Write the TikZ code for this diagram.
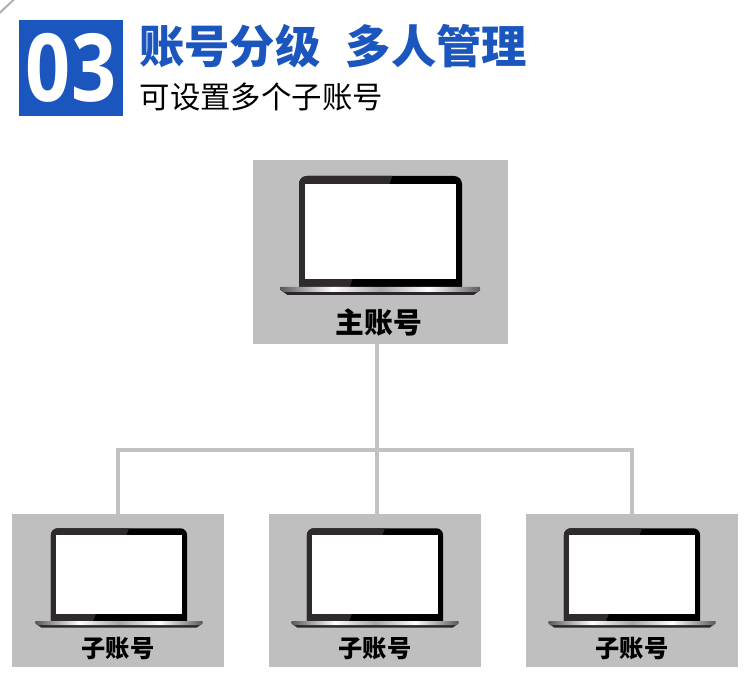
\documentclass[tikz,border=0pt]{standalone}
\usepackage{fontspec}
\setmainfont{Open Sans}
\newfontfamily\cjk{Noto Sans CJK SC}
\usetikzlibrary{positioning}
\definecolor{badgeblue}{HTML}{1A56BE}
\definecolor{panelgray}{HTML}{BFBFBF}
\definecolor{linkgray}{HTML}{C2C2C2}
\definecolor{bezelgray}{HTML}{2E2B2A}
\definecolor{hingedark}{HTML}{2E2430}
\pgfdeclarehorizontalshading{basesilver}{100bp}{
  color(0bp)=(gray!70!black); color(25bp)=(gray!70!black); color(38bp)=(white);
  color(50bp)=(gray!70); color(62bp)=(white); color(75bp)=(gray!70!black); color(100bp)=(gray!70!black)}

\begin{document}
\begin{tikzpicture}[
	  x=0.75pt, y=-0.75pt,
	  panel/.style={rectangle, inner sep=0pt, fill=panelgray},
	  mainpanel/.style={panel, minimum width=191.25pt, minimum height=138pt},
	  subpanel/.style={panel, minimum width=159pt, minimum height=114.75pt},
	  mainlabel/.style={inner sep=0pt, font=\cjk\fontsize{21.6}{21.6}\selectfont\bfseries},
	  sublabel/.style={inner sep=0pt, font=\cjk\fontsize{18.2}{18.2}\selectfont\bfseries},
	  link/.style={draw=linkgray, line width=3.2pt},
	  laptop/.pic={
	    \fill[black] (-81.5,0) -- (-81.5,-103) arc[start angle=180, end angle=270, radius=8] -- (73.5,-111) arc[start angle=270, end angle=360, radius=8] -- (81.5,0) -- cycle;
	    \fill[bezelgray] (-81.5,0) -- (-81.5,-103) arc[start angle=180, end angle=270, radius=8] -- (12,-111) -- (-31,0) -- cycle;
	    \fill[white] (-75.5,-8) rectangle (75.5,-103);
	    \fill[hingedark] (-100,3) -- (100,3) -- (93,8) -- (-93,8) -- cycle;
	    \shade[shading=basesilver] (-100,0) -- (100,0) -- (100,3) -- (97,5) -- (-97,5) -- (-100,3) -- cycle;
	  }
	]

	\useasboundingbox (0,0) rectangle (750,691);

	% corner mark
	\fill[gray!60] (0,11) -- (12,0) -- (15,0) -- (0,14) -- cycle;

	% heading
	\node (badge) [rectangle, inner sep=0pt, minimum width=78pt, minimum height=72pt, fill=badgeblue, text=white, font=\fontsize{63}{63}\selectfont\bfseries] at (71,68) {\scalebox{0.94}[1.12]{03}};
	\node (title) [inner sep=0pt, anchor=west, text=badgeblue, font=\cjk\fontsize{34}{34}\selectfont\bfseries] at (139,46) {账号分级\hspace{19pt}多人管理};
	\node (subtitle) [inner sep=0pt, anchor=west, font=\cjk\fontsize{22.8}{22.8}\selectfont] at (139.5,97) {可设置多个子账号};

	% panels
	\node (mainbox) [mainpanel] at (380.5,252) {};
	\node (subA) [subpanel] at (118,590.5) {};
	\node (subB) [subpanel] at (375,590.5) {};
	\node (subC) [subpanel] at (632,590.5) {};

	% laptops
	\pic at (380.5,287) {laptop};
	\pic[scale=0.835] at (119,621) {laptop};
	\pic[scale=0.835] at (375,621) {laptop};
	\pic[scale=0.835] at (632,621) {laptop};

	% labels
	\node (mainname) [mainlabel] at (379,323) {主账号};
	\node (nameA) [sublabel] at (118,649) {子账号};
	\node (nameB) [sublabel] at (375,649) {子账号};
	\node (nameC) [sublabel] at (632,649) {子账号};

	% links
	\coordinate (bus) at (377,450);
	\draw [link] (bus |- mainbox.south) -- (bus);
	\draw [link] (subA.north) |- (bus) -| (subC.north);
	\draw [link] (bus) -- (bus |- subB.north);

\end{tikzpicture}
\end{document}
